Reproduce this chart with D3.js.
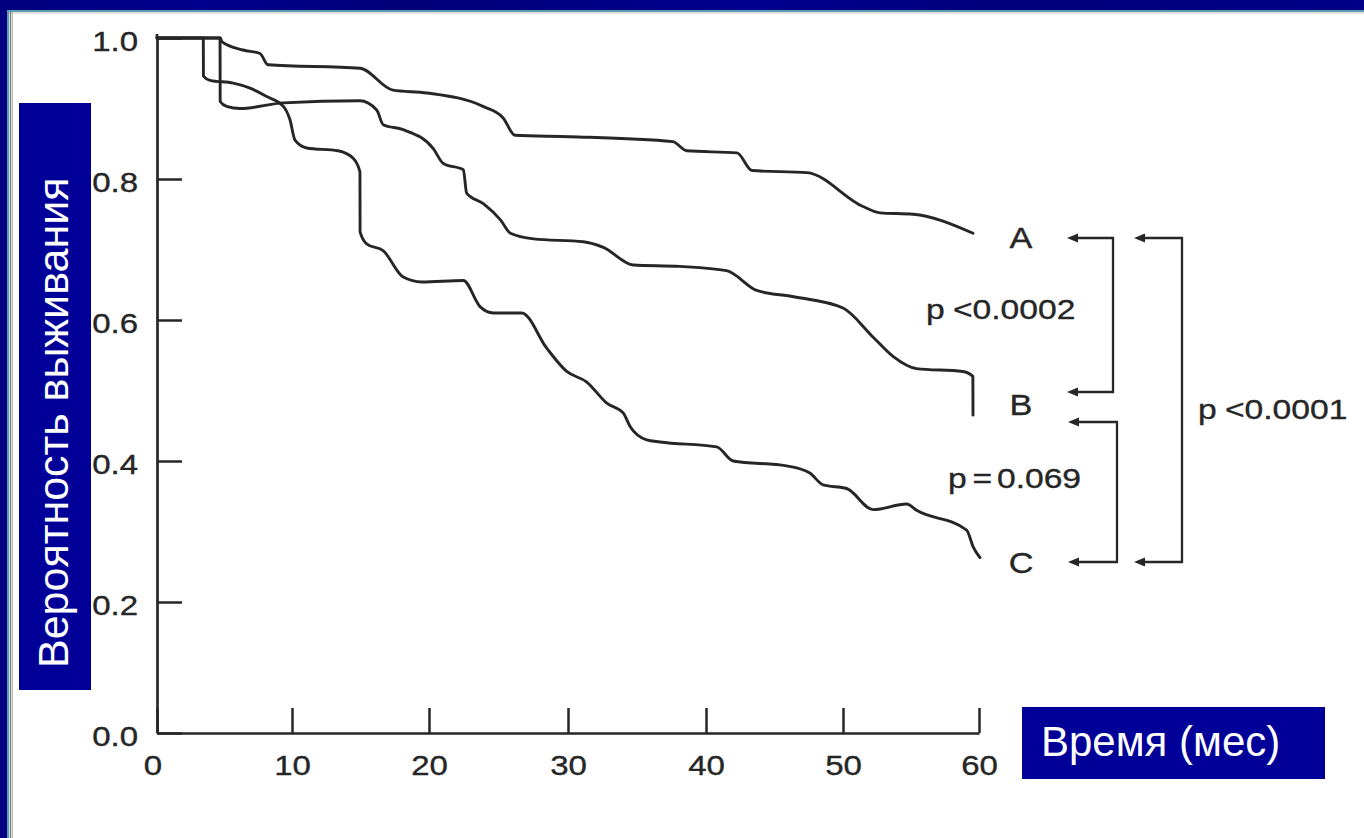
<!DOCTYPE html>
<html><head><meta charset="utf-8">
<script src="https://cdn.jsdelivr.net/npm/d3@7"></script>
<style>
html,body{margin:0;padding:0;background:#fff;}
svg{display:block;}
text{font-family:"Liberation Sans",Arial,Helvetica,sans-serif;}
</style></head>
<body>
<svg id="chart" width="1364" height="838"></svg>
<script>
// ---- data ----
const xTicks = [0, 10, 20, 30, 40, 50, 60];
const yTicks = [0, 0.2, 0.4, 0.6, 0.8, 1.0];
const yTickLabels = ["0.0", "0.2", "0.4", "0.6", "0.8", "1.0"];
const seriesNames = ["A", "B", "C"];

const monthsA = [0, 4.7, 4.8, 6.37, 7.63, 8.22, 14.96, 17.37, 19.85, 23.88, 25.32, 26.19, 30.14, 37.6, 38.6, 42.26, 43.36, 47.37, 51.47, 52.72, 55.15, 59.56];
const survA   = [1.0, 1.0, 0.995, 0.983, 0.978, 0.962, 0.957, 0.926, 0.922, 0.903, 0.887, 0.862, 0.860, 0.853, 0.840, 0.837, 0.812, 0.809, 0.761, 0.752, 0.750, 0.723];

const monthsB = [0, 4.67, 4.68, 5.16, 6.15, 9.36, 14.96, 16.18, 16.66, 18.12, 20.31, 21.03, 22.47, 22.71, 23.91, 25.14, 25.86, 27.53, 31.1, 32.56, 34.73, 38.1, 41.5, 43.7, 46.4, 50.0, 52.2, 53.7, 55.4, 58.8, 59.55, 59.56];
const survB   = [1.0, 1.0, 0.910, 0.903, 0.900, 0.908, 0.911, 0.898, 0.877, 0.870, 0.843, 0.822, 0.813, 0.780, 0.765, 0.742, 0.723, 0.715, 0.711, 0.703, 0.678, 0.676, 0.670, 0.642, 0.633, 0.617, 0.576, 0.548, 0.531, 0.527, 0.520, 0.465];

const monthsC = [0, 3.43, 3.44, 3.93, 5.65, 6.89, 8.13, 9.36, 9.85, 10.22, 11.07, 13.36, 14.48, 14.96, 14.97, 15.45, 16.67, 18.12, 19.47, 22.47, 23.67, 24.63, 26.67, 28.47, 29.91, 31.36, 32.81, 34.01, 34.5, 35.7, 36.67, 40.78, 41.99, 45.88, 47.58, 48.55, 50.27, 52.22, 54.68, 55.41, 59.09, 59.58, 60.07];
const survC   = [1.0, 1.0, 0.946, 0.940, 0.936, 0.929, 0.917, 0.903, 0.884, 0.855, 0.844, 0.840, 0.829, 0.810, 0.725, 0.708, 0.698, 0.661, 0.654, 0.656, 0.619, 0.610, 0.610, 0.560, 0.527, 0.512, 0.482, 0.468, 0.449, 0.430, 0.427, 0.420, 0.400, 0.393, 0.383, 0.366, 0.361, 0.331, 0.339, 0.330, 0.302, 0.278, 0.263];

const pLabels = ["p<0.0002", "p=0.069", "p<0.0001"];
const yAxisTitle = "Вероятность выживания";
const xAxisTitle = "Время (мес)";

// ---- drawing ----
const svg = d3.select("#chart");
const ink = "#262626";
const boxBlue = "#000099";

// frame
const defs = svg.append("defs");
const g1 = defs.append("linearGradient").attr("id","band").attr("x1","0").attr("x2","1").attr("y1","0").attr("y2","0");
[[0,"#00007e"],[0.15,"#00008e"],[0.3,"#000078"],[0.55,"#000090"],[0.75,"#00007a"],[1,"#000088"]]
  .forEach(([o,c]) => g1.append("stop").attr("offset",o).attr("stop-color",c));
svg.append("rect").attr("x",0).attr("y",0).attr("width",1364).attr("height",10).attr("fill","url(#band)");
svg.append("rect").attr("x",0).attr("y",0).attr("width",7).attr("height",838).attr("fill","#000080");
svg.append("line").attr("x1",7).attr("x2",1364).attr("y1",11).attr("y2",11).attr("stroke","#5b9db0").attr("stroke-width",2);
svg.append("line").attr("x1",8).attr("x2",1364).attr("y1",13).attr("y2",13).attr("stroke","#c8c0c8").attr("stroke-width",1.2);
svg.append("line").attr("x1",8).attr("x2",8).attr("y1",10).attr("y2",838).attr("stroke","#5b9db0").attr("stroke-width",2);
svg.append("line").attr("x1",10.5).attr("x2",10.5).attr("y1",12).attr("y2",838).attr("stroke","#777").attr("stroke-width",1.5);
svg.append("line").attr("x1",12.5).attr("x2",12.5).attr("y1",12).attr("y2",838).attr("stroke","#bbb").attr("stroke-width",1);

// scales (calibrated to the scanned axis)
const x = d3.scaleLinear().domain(xTicks).range([157, 292, 429, 568, 706, 843, 979]);
const y = d3.scaleLinear().domain([0, 0.2, 1]).range([733, 602, 38]);

const sx = 1.18; // horizontal stretch of the scanned type

// y axis
const yAxis = svg.append("g").attr("transform", `translate(${x(0)},0)`)
  .call(d3.axisLeft(y).tickValues(yTicks).tickSize(-25).tickSizeOuter(0).tickPadding(16)
        .tickFormat((d,i) => yTickLabels[i]));
yAxis.select(".domain").attr("stroke", ink).attr("stroke-width", 2.7);
yAxis.selectAll(".tick line").attr("stroke", ink).attr("stroke-width", 2.5);
yAxis.selectAll(".tick text").attr("fill", ink).attr("font-size", 28)
  .attr("stroke", ink).attr("stroke-width", 0.35)
  .attr("dy", "0.46em").attr("transform", `scale(${sx},1)`);
svg.append("line").attr("x1", x(0)).attr("x2", x(0)).attr("y1", y(1)).attr("y2", y(1) - 4)
  .attr("stroke", ink).attr("stroke-width", 2.7);

// x axis
const xAxis = svg.append("g").attr("transform", `translate(0,${y(0)})`)
  .call(d3.axisBottom(x).tickValues(xTicks).tickSize(-25).tickSizeOuter(0).tickPadding(22));
xAxis.select(".domain").attr("stroke", ink).attr("stroke-width", 2.7);
xAxis.selectAll(".tick line").attr("stroke", ink).attr("stroke-width", 2.5);
xAxis.selectAll(".tick text").attr("fill", ink).attr("font-size", 28)
  .attr("stroke", ink).attr("stroke-width", 0.35)
  .attr("transform", `scale(${sx},1)`);
xAxis.selectAll(".tick").filter(d => d === 0).select("text").attr("dx", "-0.14em");

// curves
const series = [
  {name: "A", m: monthsA, s: survA},
  {name: "B", m: monthsB, s: survB},
  {name: "C", m: monthsC, s: survC}
];
const line = d3.line().x(d => x(d[0])).y(d => y(d[1])).curve(d3.curveMonotoneX);
svg.append("g").selectAll("path").data(series).join("path")
  .attr("d", d => line(d.m.map((v, i) => [v, d.s[i]])))
  .attr("fill", "none").attr("stroke", ink).attr("stroke-width", 2.9)
  .attr("stroke-linejoin", "round").attr("stroke-linecap", "round");

// series labels
const labelPos = [[1021, 238], [1021, 405], [1021, 563]];
seriesNames.forEach((n, i) => {
  svg.append("text").attr("transform", `translate(${labelPos[i][0]},${labelPos[i][1]}) scale(${sx},1)`)
    .attr("text-anchor", "middle").attr("dy", "0.36em").attr("font-size", 29).attr("fill", ink)
    .attr("stroke", ink).attr("stroke-width", 0.35).text(n);
});

// brackets with arrows
const br = svg.append("g").attr("fill", "none").attr("stroke", ink).attr("stroke-width", 2.3);
function arrowHead(xTip, yy) {
  svg.append("path").attr("d", `M${xTip},${yy} L${xTip + 11},${yy - 4.5} L${xTip + 11},${yy + 4.5} Z`).attr("fill", ink);
}
function bracket(x0, xv, yTop, yBot) {
  br.append("path").attr("d", `M${x0 + 8},${yTop} H${xv} V${yBot} H${x0 + 8}`);
  arrowHead(x0, yTop); arrowHead(x0, yBot);
}
bracket(1067, 1113, 238, 392);
bracket(1068, 1117, 422, 562);
bracket(1134, 1182, 238, 562);

// p-value texts
function pText(str, xs, yc, gap1, gap2) {
  const t = svg.append("text").attr("transform", `translate(${xs},${yc}) scale(${sx},1)`)
    .attr("dy", "0.36em").attr("font-size", 28.5).attr("fill", ink)
    .attr("stroke", ink).attr("stroke-width", 0.35);
  t.append("tspan").text(str[0]);
  t.append("tspan").attr("dx", gap1).text(str[1]);
  t.append("tspan").attr("dx", gap2).text(str.slice(2));
}
pText(pLabels[0], 926, 309, 7, 0);
pText(pLabels[1], 948, 478, 5, 4);
pText(pLabels[2], 1198, 409, 7, 0);

// y axis title box
svg.append("rect").attr("x", 19).attr("y", 103).attr("width", 72).attr("height", 587).attr("fill", boxBlue);
svg.append("text").attr("transform", "translate(68,668) rotate(-90)")
  .attr("font-size", 43).attr("fill", "#fff").text(yAxisTitle);

// x axis title box
svg.append("rect").attr("x", 1022).attr("y", 707).attr("width", 303).attr("height", 72).attr("fill", boxBlue);
svg.append("text").attr("x", 1041).attr("y", 756)
  .attr("font-size", 42).attr("fill", "#fff").text(xAxisTitle);
</script>
</body></html>
